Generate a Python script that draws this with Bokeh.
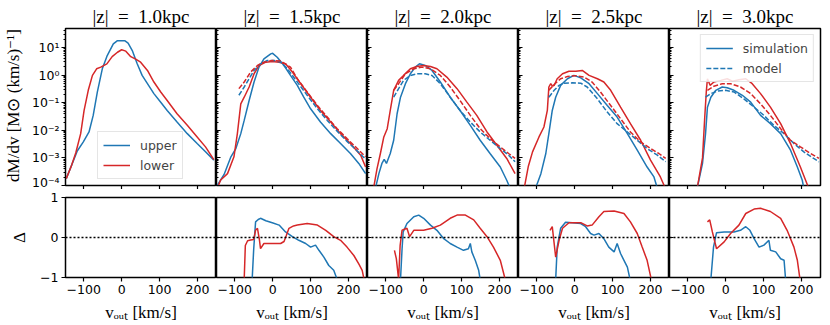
import numpy as np
from bokeh.plotting import figure
from bokeh.layouts import row, column
from bokeh.models import (Range1d, FixedTicker, CustomJSTickFormatter, Span,
                          Legend, LegendItem, Title, CustomLabelingPolicy)
from bokeh.embed import file_html
from bokeh.resources import INLINE

# ---------------- data ----------------
Z_LABELS = ["1.0", "1.5", "2.0", "2.5", "3.0"]
X_TICKS = [-100, 0, 100, 200]
Y_TICKS = [1e-4, 1e-3, 1e-2, 1e-1, 1e0, 1e1]
D_TICKS = [-1, 0, 1]

# top row: v_out [km/s] and log10(dM/dv)
# |z| = 1.0 kpc
up_sim_10_v = [-146, -132, -117, -101, -86, -75, -64, -51, -38, -22, -11, 8, 17, 28, 41, 54, 68, 85, 103, 120, 146, 173, 199, 221, 243]
up_sim_10_lg = [-3.75, -3.27, -2.75, -2.42, -2.06, -1.46, -0.61, 0.23, 0.71, 1.13, 1.25, 1.25, 1.16, 0.89, 0.41, -0.01, -0.31, -0.67, -0.98, -1.28, -1.70, -2.12, -2.48, -2.78, -3.08]
lo_sim_10_v = [-146, -132, -121, -108, -99, -88, -77, -66, -55, -39, -25, -11, 0, 11, 24, 37, 50, 68, 85, 103, 120, 146, 173, 199, 221, 243]
lo_sim_10_lg = [-3.75, -3.27, -2.82, -2.12, -1.28, -0.55, -0.01, 0.23, 0.29, 0.41, 0.67, 0.83, 0.92, 0.87, 0.67, 0.58, 0.47, 0.17, -0.25, -0.61, -0.92, -1.40, -1.82, -2.24, -2.60, -3.06]

# |z| = 1.5 kpc
up_sim_15_v = [-146, -128, -110, -97, -84, -75, -62, -49, -36, -23, -5, 0, 12, 30, 47, 65, 82, 100, 126, 153, 179, 205, 227, 245]
up_sim_15_lg = [-4.0, -3.6, -2.96, -2.66, -2.12, -1.64, -0.92, -0.25, 0.29, 0.59, 0.77, 0.79, 0.65, 0.35, -0.01, -0.37, -0.80, -1.22, -1.70, -2.12, -2.48, -2.84, -3.20, -3.57]
up_mod_15_v = [-89, -75, -62, -49, -32, -14, 4, 21, 39, 65, 91, 118, 144, 170, 196, 223, 245]
up_mod_15_lg = [-0.73, -0.43, -0.13, 0.17, 0.41, 0.53, 0.53, 0.47, 0.23, -0.25, -0.73, -1.22, -1.64, -2.03, -2.40, -2.75, -3.05]
lo_sim_15_v = [-146, -137, -119, -102, -93, -84, -75, -62, -49, -36, -18, -1, 17, 34, 52, 74, 100, 126, 153, 179, 205, 232, 245]
lo_sim_15_lg = [-4.1, -3.8, -3.57, -2.96, -2.12, -1.04, -0.80, -0.43, 0.05, 0.35, 0.47, 0.49, 0.47, 0.41, 0.11, -0.31, -0.80, -1.28, -1.70, -2.12, -2.48, -2.90, -3.33]
lo_mod_15_v = [-89, -75, -58, -40, -23, -1, 21, 47, 65, 91, 118, 144, 170, 196, 223, 245]
lo_mod_15_lg = [-0.49, -0.25, 0.11, 0.35, 0.47, 0.53, 0.51, 0.29, -0.13, -0.61, -1.10, -1.52, -1.94, -2.30, -2.66, -2.96]

# |z| = 2.0 kpc
up_sim_20_v = [-127, -118, -110, -104, -98, -88, -79, -70, -61, -48, -35, -22, -11, 4, 22, 44, 70, 96, 123, 149, 175, 202, 219, 228]
up_sim_20_lg = [-4.1, -3.57, -3.2, -3.05, -3.2, -2.84, -2.36, -1.40, -0.80, -0.31, 0.05, 0.29, 0.41, 0.35, 0.17, -0.25, -0.80, -1.28, -1.82, -2.36, -2.84, -3.33, -3.81, -4.1]
up_mod_20_v = [-79, -66, -53, -35, -18, 4, 22, 44, 70, 96, 123, 149, 175, 202, 224, 241]
up_mod_20_lg = [-0.80, -0.49, -0.19, -0.01, 0.05, 0.05, -0.01, -0.31, -0.80, -1.28, -1.70, -2.06, -2.36, -2.66, -2.90, -3.14]
lo_sim_20_v = [-132, -123, -114, -105, -96, -88, -79, -66, -53, -35, -18, 0, 18, 35, 61, 88, 114, 140, 167, 193, 219, 241]
lo_sim_20_lg = [-4.1, -3.4, -2.84, -2.24, -1.94, -1.28, -0.55, -0.19, -0.01, 0.23, 0.31, 0.35, 0.31, 0.23, -0.07, -0.49, -0.98, -1.46, -2.06, -2.54, -3.02, -3.57]
lo_mod_20_v = [-79, -66, -48, -26, -4, 18, 44, 70, 96, 123, 149, 175, 202, 224, 241]
lo_mod_20_lg = [-0.55, -0.31, 0.05, 0.23, 0.29, 0.23, -0.01, -0.43, -0.92, -1.46, -1.94, -2.30, -2.60, -2.84, -3.02]

# |z| = 2.5 kpc
up_sim_25_v = [-103, -89, -76, -68, -59, -50, -37, -19, -2, 16, 38, 60, 86, 112, 139, 165, 191, 209, 218]
up_sim_25_lg = [-4.1, -3.57, -2.84, -2.12, -1.28, -0.80, -0.37, -0.13, -0.01, -0.10, -0.31, -0.67, -1.10, -1.52, -2.12, -2.72, -3.33, -3.69, -4.1]
up_mod_25_v = [-68, -54, -41, -28, -6, 16, 33, 60, 86, 112, 139, 165, 191, 218, 240]
up_mod_25_lg = [-0.80, -0.55, -0.37, -0.29, -0.28, -0.29, -0.43, -0.86, -1.34, -1.76, -2.06, -2.36, -2.66, -2.90, -3.14]
lo_sim_25_v = [-133, -122, -111, -94, -81, -72, -68, -63, -58, -54, -46, -32, -15, 3, 20, 38, 60, 77, 95, 121, 147, 174, 200, 226, 239]
lo_sim_25_lg = [-4.1, -3.3, -2.78, -2.24, -1.88, -1.28, -0.43, -0.31, -0.40, -0.37, -0.13, 0.05, 0.14, 0.14, 0.17, -0.01, -0.13, -0.25, -0.55, -1.16, -1.76, -2.36, -3.08, -3.69, -4.1]
lo_mod_25_v = [-68, -54, -37, -19, 3, 25, 46, 68, 95, 121, 147, 174, 200, 222, 240]
lo_mod_25_lg = [-0.55, -0.34, -0.13, -0.05, -0.02, -0.07, -0.25, -0.61, -1.10, -1.58, -2.06, -2.42, -2.66, -2.84, -3.02]

# |z| = 3.0 kpc
up_sim_30_v = [-75, -61, -53, -48, -39, -26, -9, 4, 22, 44, 66, 92, 118, 145, 171, 189, 202, 206]
up_sim_30_lg = [-4.1, -3.2, -2.12, -1.16, -0.80, -0.55, -0.43, -0.46, -0.55, -0.73, -0.98, -1.46, -1.76, -2.12, -2.72, -3.33, -3.81, -4.1]
up_mod_30_v = [-53, -39, -22, 0, 22, 48, 75, 101, 127, 154, 180, 206, 232, 246]
up_mod_30_lg = [-0.80, -0.67, -0.58, -0.55, -0.61, -0.86, -1.16, -1.46, -1.82, -2.12, -2.48, -2.78, -3.02, -3.14]
lo_sim_30_v = [-75, -61, -55, -51, -48, -41, -31, -13, 4, 18, 35, 53, 70, 92, 118, 145, 171, 197, 219]
lo_sim_30_lg = [-4.1, -3.0, -1.5, -0.6, -0.13, -0.37, -0.25, -0.19, -0.13, -0.22, -0.17, -0.13, -0.31, -0.67, -1.16, -1.76, -2.48, -3.33, -4.1]
lo_mod_30_v = [-48, -31, -9, 13, 39, 66, 92, 118, 145, 171, 197, 224, 246]
lo_mod_30_lg = [-0.55, -0.40, -0.31, -0.31, -0.43, -0.67, -1.04, -1.46, -1.94, -2.36, -2.60, -2.84, -3.02]

# bottom row: Delta
d_up_15_v = [-54, -50, -45, -38, -32, -18, -1, 17, 34, 52, 69, 87, 100, 113, 122, 135, 148, 161, 170]
d_up_15 = [-1.05, -0.30, 0.39, 0.45, 0.48, 0.42, 0.37, 0.31, 0.14, 0.02, -0.07, -0.15, -0.24, -0.19, -0.32, -0.49, -0.70, -0.82, -1.05]
d_lo_15_v = [-75, -72, -66, -58, -50, -45, -40, -35, -32, -23, -5, 21, 30, 36, 43, 55, 65, 91, 118, 140, 161, 179, 196, 214, 227, 236, 241]
d_lo_15 = [-1.05, -0.20, -0.08, -0.06, -0.05, 0.18, 0.23, -0.05, -0.28, -0.15, -0.15, -0.15, -0.10, 0.05, 0.23, 0.29, 0.31, 0.35, 0.31, 0.18, 0.02, -0.07, -0.24, -0.45, -0.66, -0.82, -1.05]

d_up_20_v = [-61, -57, -54, -44, -26, -13, 0, 18, 35, 53, 70, 88, 105, 118, 123, 127, 136, 145, 149]
d_up_20 = [-1.05, -0.30, 0.14, 0.35, 0.52, 0.56, 0.48, 0.31, 0.18, -0.03, -0.15, -0.24, -0.32, -0.28, -0.15, -0.36, -0.57, -0.82, -1.05]
d_lo_20_v = [-77, -72, -66, -62, -57, -44, -37, -26, 0, 22, 44, 70, 88, 110, 132, 149, 167, 184, 202, 215]
d_lo_20 = [-0.32, -0.53, -1.05, -0.20, 0.18, 0.23, 0.02, 0.18, 0.18, 0.23, 0.31, 0.48, 0.56, 0.56, 0.44, 0.23, 0.02, -0.24, -0.57, -1.05]

d_up_25_v = [-50, -46, -37, -24, -6, 16, 29, 42, 51, 64, 77, 90, 104, 112, 121, 130, 139, 146]
d_up_25 = [-1.05, -0.24, 0.23, 0.38, 0.37, 0.35, 0.27, 0.10, 0.06, 0.10, -0.03, -0.24, -0.36, -0.15, -0.40, -0.57, -0.74, -1.05]
d_lo_25_v = [-65, -59, -50, -41, -32, -15, 16, 33, 46, 64, 77, 104, 130, 147, 165, 178, 191, 202]
d_lo_25 = [0.18, 0.27, -0.49, -0.07, 0.23, 0.37, 0.37, 0.29, 0.31, 0.52, 0.65, 0.66, 0.60, 0.39, 0.10, -0.24, -0.57, -1.05]

d_up_30_v = [-39, -32, -24, -4, 22, 39, 53, 64, 75, 88, 101, 114, 118, 132, 145, 154, 158]
d_up_30 = [-1.05, -0.24, 0.12, 0.14, 0.14, 0.18, 0.27, 0.18, -0.03, -0.24, -0.19, -0.07, -0.32, -0.36, -0.53, -0.57, -1.05]
d_lo_30_v = [-48, -42, -35, -24, -4, 13, 35, 53, 75, 92, 118, 145, 162, 180, 189, 196]
d_lo_30 = [0.39, 0.44, 0.14, -0.28, -0.11, 0.10, 0.31, 0.60, 0.71, 0.73, 0.65, 0.48, 0.18, -0.24, -0.57, -1.05]

PANELS = [
    dict(up_sim=(up_sim_10_v, up_sim_10_lg), lo_sim=(lo_sim_10_v, lo_sim_10_lg), up_mod=None, lo_mod=None, d_up=None, d_lo=None),
    dict(up_sim=(up_sim_15_v, up_sim_15_lg), lo_sim=(lo_sim_15_v, lo_sim_15_lg), up_mod=(up_mod_15_v, up_mod_15_lg), lo_mod=(lo_mod_15_v, lo_mod_15_lg), d_up=(d_up_15_v, d_up_15), d_lo=(d_lo_15_v, d_lo_15)),
    dict(up_sim=(up_sim_20_v, up_sim_20_lg), lo_sim=(lo_sim_20_v, lo_sim_20_lg), up_mod=(up_mod_20_v, up_mod_20_lg), lo_mod=(lo_mod_20_v, lo_mod_20_lg), d_up=(d_up_20_v, d_up_20), d_lo=(d_lo_20_v, d_lo_20)),
    dict(up_sim=(up_sim_25_v, up_sim_25_lg), lo_sim=(lo_sim_25_v, lo_sim_25_lg), up_mod=(up_mod_25_v, up_mod_25_lg), lo_mod=(lo_mod_25_v, lo_mod_25_lg), d_up=(d_up_25_v, d_up_25), d_lo=(d_lo_25_v, d_lo_25)),
    dict(up_sim=(up_sim_30_v, up_sim_30_lg), lo_sim=(lo_sim_30_v, lo_sim_30_lg), up_mod=(up_mod_30_v, up_mod_30_lg), lo_mod=(lo_mod_30_v, lo_mod_30_lg), d_up=(d_up_30_v, d_up_30), d_lo=(d_lo_30_v, d_lo_30)),
]

# ---------------- style / layout ----------------
BLUE = "#1f77b4"
RED = "#d62728"
LW = 1.5
DASH = "5 2"
XR = (-148, 250)
YR = (1e-4, 49)
FW = 151
TOP_FH, BOT_FH = 157, 80
LEFT = 65
TOP_BT, TOP_BB = 28, 4
BOT_BT, BOT_BB = 8, 45
TICK_FONT = "DejaVu Sans"
TICK_SIZE = "12.5px"
SERIF = "Liberation Serif"

Y_MINOR = [m * d for d in Y_TICKS[:-1] + [10.0] for m in range(2, 10)]

sup_fmt = CustomJSTickFormatter(code="""
const m = {'-':'\u207b','0':'\u2070','1':'\u00b9','2':'\u00b2','3':'\u00b3','4':'\u2074','5':'\u2075','6':'\u2076','7':'\u2077','8':'\u2078','9':'\u2079'};
const e = Math.round(Math.log10(tick));
return '10' + String(e).split('').map(c => m[c]).join('');
""")
minus_fmt = CustomJSTickFormatter(code="return tick < 0 ? '\u2212' + Math.abs(tick) : String(tick);")
no_labels = CustomLabelingPolicy(code="""
const all = Array.from(indices);
for (const i of all) indices.unset(i);
""")


def base_style(p):
    p.grid.visible = False
    p.outline_line_color = "black"
    p.outline_line_width = 1.5
    p.outline_line_alpha = 1.0
    p.background_fill_color = "white"
    p.border_fill_color = "white"
    for ax in p.axis:
        ax.axis_line_color = None
        ax.major_tick_line_color = "black"
        ax.minor_tick_line_color = "black"
        ax.major_tick_line_width = 1.2
        ax.minor_tick_line_width = 1
        ax.major_label_text_font = TICK_FONT
        ax.major_label_text_font_size = TICK_SIZE
        ax.major_label_text_color = "black"
        ax.axis_label_text_font = SERIF
        ax.axis_label_text_font_style = "normal"
        ax.axis_label_text_font_size = "17px"
        ax.axis_label_text_color = "black"


def hide_labels(ax):
    # tick marks only: no label is drawn and no room is kept for labels
    ax.major_label_policy = no_labels
    ax.major_label_text_color = None
    ax.major_label_standoff = 0


tops, bots = [], []
for i, (zl, pan) in enumerate(zip(Z_LABELS, PANELS)):
    first = i == 0
    last = i == len(PANELS) - 1
    bl = LEFT if first else 0
    br = 3 if last else 0

    # ---------- top panel ----------
    pt = figure(frame_width=FW, frame_height=TOP_FH,
                x_range=Range1d(*XR), y_range=Range1d(*YR), y_axis_type="log",
                output_backend="svg", toolbar_location=None,
                min_border_left=bl, min_border_right=br,
                min_border_top=TOP_BT, min_border_bottom=TOP_BB)
    pt.title = Title(text="|z|\u2002=\u2002" + zl + "kpc", align="center", text_font=SERIF,
                     text_font_size="19px", text_font_style="normal", text_color="black",
                     standoff=4, offset=0)
    base_style(pt)
    xa = pt.xaxis[0]
    xa.ticker = FixedTicker(ticks=X_TICKS)
    hide_labels(xa)
    xa.major_tick_out = 4
    xa.major_tick_in = 0
    ya = pt.yaxis[0]
    ya.ticker = FixedTicker(ticks=Y_TICKS, minor_ticks=Y_MINOR)
    ya.formatter = sup_fmt
    if first:
        ya.major_tick_out, ya.major_tick_in = 4, 0
        ya.minor_tick_out, ya.minor_tick_in = 2, 0
        ya.major_label_standoff = 2
        ya.axis_label = "dM/dv [M\u2299 (km/s)\u207b\u00b9]"
        ya.axis_label_standoff = 6
    else:
        hide_labels(ya)
        ya.major_tick_out, ya.major_tick_in = 0, 4
        ya.minor_tick_out, ya.minor_tick_in = 0, 2

    r_us = pt.line(pan["up_sim"][0], 10 ** np.array(pan["up_sim"][1]), color=BLUE, line_width=LW)
    r_ls = pt.line(pan["lo_sim"][0], 10 ** np.array(pan["lo_sim"][1]), color=RED, line_width=LW)
    r_um = None
    if pan["up_mod"] is not None:
        r_um = pt.line(pan["up_mod"][0], 10 ** np.array(pan["up_mod"][1]), color=BLUE, line_width=LW, line_dash=DASH)
        pt.line(pan["lo_mod"][0], 10 ** np.array(pan["lo_mod"][1]), color=RED, line_width=LW, line_dash=DASH)

    leg_kw = dict(label_text_font=TICK_FONT, label_text_font_size=TICK_SIZE,
                  glyph_width=27, glyph_height=16, label_height=16, label_standoff=10,
                  spacing=4, padding=5, border_line_color="#cccccc", border_line_width=1,
                  background_fill_alpha=0.85)
    if first:
        leg = Legend(items=[LegendItem(label="upper", renderers=[r_us]),
                            LegendItem(label="lower", renderers=[r_ls])],
                     location=(32, 6), margin=0, **leg_kw)
        pt.add_layout(leg)
    if last:
        leg = Legend(items=[LegendItem(label="simulation", renderers=[r_us]),
                            LegendItem(label="model", renderers=[r_um])],
                     location="top_right", margin=6, **leg_kw)
        pt.add_layout(leg)
    tops.append(pt)

    # ---------- bottom panel ----------
    pb = figure(frame_width=FW, frame_height=BOT_FH,
                x_range=Range1d(*XR), y_range=Range1d(-1, 1),
                output_backend="svg", toolbar_location=None,
                min_border_left=bl, min_border_right=br,
                min_border_top=BOT_BT, min_border_bottom=BOT_BB)
    base_style(pb)
    xb = pb.xaxis[0]
    xb.ticker = FixedTicker(ticks=X_TICKS)
    xb.formatter = minus_fmt
    xb.major_tick_out, xb.major_tick_in = 4, 0
    xb.major_label_standoff = 3
    xb.axis_label = "v\u2092\u1d64\u209c [km/s]"
    xb.axis_label_standoff = 6
    yb = pb.yaxis[0]
    yb.ticker = FixedTicker(ticks=D_TICKS)
    yb.formatter = minus_fmt
    if first:
        yb.major_tick_out, yb.major_tick_in = 4, 0
        yb.major_label_standoff = 3
        yb.axis_label = "\u0394"
        yb.axis_label_standoff = 8
    else:
        hide_labels(yb)
        yb.major_tick_out, yb.major_tick_in = 0, 4
    pb.add_layout(Span(location=0, dimension="width", line_color="black",
                       line_width=1.5, line_dash="2 2"))
    if pan["d_up"] is not None:
        pb.line(pan["d_up"][0], pan["d_up"][1], color=BLUE, line_width=LW)
        pb.line(pan["d_lo"][0], pan["d_lo"][1], color=RED, line_width=LW)
    bots.append(pb)

layout = column(row(*tops, spacing=0), row(*bots, spacing=0), spacing=0)

with open("out.html", "w") as f:
    f.write(file_html(layout, INLINE))
